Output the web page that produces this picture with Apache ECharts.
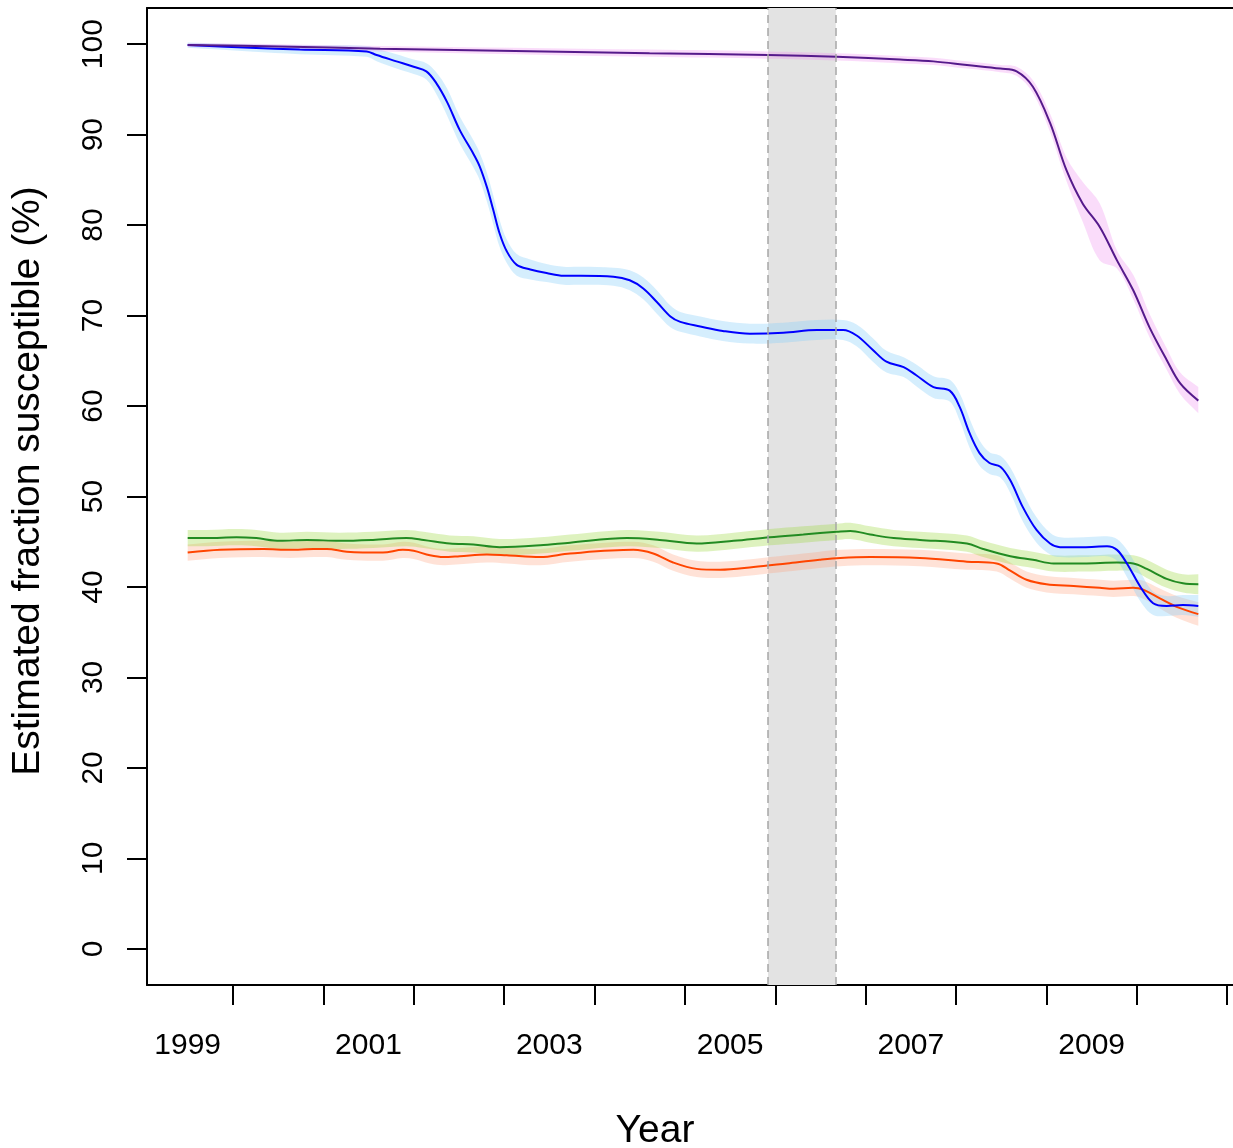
<!DOCTYPE html>
<html>
<head>
<meta charset="utf-8">
<script src="https://cdn.jsdelivr.net/npm/echarts@6/dist/echarts.min.js"></script>
<style>
html,body{margin:0;padding:0;background:#ffffff;}
#chart{width:1233px;height:1148px;}
</style>
</head>
<body>
<div id="chart"></div>
<script>
// ---------- axis ticks / labels ----------
const xTickValues = [1999.5, 2000.5, 2001.5, 2002.5, 2003.5, 2004.5, 2005.5, 2006.5, 2007.5, 2008.5, 2009.5, 2010.5];
const xLabelValues = [1999, 2001, 2003, 2005, 2007, 2009];
const yTickValues = [0, 10, 20, 30, 40, 50, 60, 70, 80, 90, 100];
const shadeStart = 2005.42;
const shadeEnd = 2006.17;

// ---------- orange-red series ----------
const orangeX   = [1999.00,1999.36,1999.84,2000.13,2000.39,2000.54,2000.76,2001.16,2001.38,2001.50,2001.68,2001.83,2002.01,2002.31,2002.53,2002.90,2003.23,2003.93,2004.15,2004.37,2004.63,2004.89,2005.26,2005.63,2005.99,2006.22,2006.55,2007.10,2007.62,2007.95,2008.10,2008.28,2008.50,2008.80,2009.09,2009.24,2009.46,2009.57,2009.76,2009.94,2010.18];
const orangeMid = [43.8,44.1,44.2,44.1,44.2,44.2,43.9,43.8,44.1,44.0,43.5,43.3,43.4,43.6,43.5,43.3,43.7,44.1,43.7,42.7,42.0,41.9,42.2,42.6,43.0,43.2,43.3,43.2,42.8,42.6,41.8,40.8,40.3,40.1,39.9,39.8,39.9,39.7,38.7,37.8,37.0];
const orangeLo  = [42.9,43.2,43.3,43.2,43.3,43.3,43.0,42.9,43.2,43.1,42.6,42.4,42.5,42.7,42.6,42.4,42.8,43.2,42.8,41.8,41.1,41.0,41.3,41.7,42.1,42.3,42.4,42.3,41.9,41.7,40.9,39.9,39.4,39.2,39.0,38.9,39.0,38.7,37.6,36.6,35.7];
const orangeHi  = [44.7,45.0,45.1,45.0,45.1,45.1,44.8,44.7,45.0,44.9,44.4,44.2,44.3,44.5,44.4,44.2,44.6,45.0,44.6,43.6,42.9,42.8,43.1,43.5,43.9,44.1,44.2,44.1,43.7,43.5,42.7,41.7,41.2,41.0,40.8,40.7,40.8,40.7,39.8,39.0,38.3];

// ---------- green series ----------
const greenX   = [1999.00,1999.21,1999.54,1999.76,2000.02,2000.32,2000.68,2001.05,2001.42,2001.61,2001.90,2002.16,2002.45,2002.90,2003.23,2003.86,2004.22,2004.63,2005.04,2005.44,2005.81,2006.18,2006.33,2006.55,2006.81,2007.10,2007.62,2007.80,2008.10,2008.35,2008.58,2008.91,2009.28,2009.46,2009.61,2009.83,2010.01,2010.18];
const greenMid = [45.4,45.4,45.5,45.4,45.1,45.2,45.1,45.2,45.4,45.2,44.8,44.7,44.4,44.6,44.9,45.4,45.2,44.8,45.1,45.5,45.8,46.1,46.2,45.8,45.4,45.2,44.8,44.2,43.4,43.0,42.6,42.6,42.7,42.6,42.0,40.9,40.4,40.3];
const greenLo  = [44.5,44.5,44.6,44.5,44.2,44.3,44.2,44.3,44.5,44.3,43.9,43.8,43.5,43.7,44.0,44.5,44.3,43.9,44.2,44.6,44.9,45.2,45.3,44.9,44.5,44.3,43.9,43.3,42.5,42.1,41.7,41.7,41.8,41.7,41.0,39.9,39.4,39.2];
const greenHi  = [46.3,46.3,46.4,46.3,46.0,46.1,46.0,46.1,46.3,46.1,45.7,45.6,45.3,45.5,45.8,46.3,46.1,45.7,46.0,46.4,46.7,47.0,47.1,46.7,46.3,46.1,45.7,45.1,44.3,43.9,43.5,43.5,43.6,43.5,43.0,41.9,41.4,41.4];

// ---------- blue series ----------
const blueX   = [1999.00,1999.69,2000.24,2000.98,2001.09,2001.31,2001.50,2001.64,2001.75,2001.87,2002.01,2002.16,2002.23,2002.31,2002.38,2002.45,2002.53,2002.64,2002.79,2002.97,2003.16,2003.35,2003.71,2003.89,2004.04,2004.19,2004.34,2004.45,2004.67,2004.92,2005.22,2005.59,2005.96,2006.25,2006.40,2006.58,2006.73,2006.92,2007.06,2007.25,2007.43,2007.54,2007.65,2007.76,2007.87,2007.99,2008.10,2008.24,2008.39,2008.54,2008.65,2008.91,2009.17,2009.28,2009.39,2009.54,2009.68,2009.83,2010.01,2010.18];
const blueMid = [99.9,99.6,99.4,99.2,98.8,98.1,97.5,97.0,95.7,93.6,90.5,87.9,86.5,84.2,81.7,79.1,77.1,75.6,75.1,74.7,74.4,74.4,74.3,73.9,73.0,71.5,69.9,69.3,68.8,68.3,68.0,68.1,68.4,68.4,67.8,66.2,64.9,64.3,63.4,62.1,61.7,59.9,57.0,54.8,53.7,53.3,51.8,48.8,46.3,44.8,44.4,44.4,44.5,44.1,42.6,40.0,38.2,37.9,38.0,37.9];
const blueLo  = [99.6,99.2,98.9,98.6,98.1,97.3,96.7,96.1,94.5,92.1,89.0,86.4,85.0,82.6,80.1,77.6,75.8,74.4,74.0,73.7,73.4,73.4,73.3,72.8,71.8,70.2,68.7,68.2,67.7,67.2,66.9,67.0,67.3,67.3,66.6,64.9,63.7,63.2,62.2,60.9,60.5,58.4,55.4,53.4,52.5,52.1,50.4,47.2,44.9,43.6,43.3,43.3,43.4,42.9,41.1,38.4,36.9,36.8,36.9,36.7];
const blueHi  = [100.2,100.0,99.9,99.8,99.5,98.9,98.3,97.9,96.9,95.1,92.0,89.4,88.0,85.8,83.3,80.6,78.4,76.8,76.2,75.7,75.4,75.4,75.3,75.0,74.2,72.8,71.1,70.4,69.9,69.4,69.1,69.2,69.5,69.5,69.0,67.5,66.1,65.4,64.6,63.3,62.9,61.4,58.6,56.2,54.9,54.5,53.2,50.4,47.7,46.0,45.5,45.5,45.6,45.3,44.1,41.6,39.5,39.0,39.1,39.1];

// ---------- purple series ----------
const purpleX   = [1999.00,2000.00,2001.13,2004.11,2005.42,2006.18,2006.88,2007.25,2007.62,2007.99,2008.17,2008.35,2008.54,2008.72,2008.90,2009.09,2009.28,2009.46,2009.64,2009.83,2009.98,2010.18];
const purpleMid = [99.9,99.75,99.5,99.0,98.8,98.6,98.3,98.1,97.7,97.3,97.0,95.3,91.3,86.1,82.4,79.8,76.1,72.8,68.7,65.1,62.5,60.6];
const purpleLo  = [99.7,99.5,99.2,98.6,98.4,98.2,97.9,97.7,97.3,96.9,96.5,94.6,90.3,84.9,80.4,76.1,75.2,71.8,67.6,64.0,61.3,59.2];
const purpleHi  = [100.1,100.0,99.8,99.4,99.2,99.0,98.7,98.5,98.1,97.7,97.5,96.0,92.3,87.5,84.8,82.4,77.2,74.5,70.2,66.4,63.7,62.1];

const FONT = 'Liberation Sans, Arial, Helvetica, sans-serif';
const SMOOTH = 0.35;
const X_MIN = 1998.55, X_MAX = 2010.63;

// confidence band drawn as one polygon through the cartesian scales
function bandSeries(xs, lo, hi, color) {
  return {
    type: 'custom', coordinateSystem: 'cartesian2d', z: 3, silent: true,
    data: xs.map((x, i) => [x, lo[i], hi[i]]),
    encode: { x: 0, y: [1, 2] },
    renderItem: function (params, api) {
      if (params.dataIndex !== 0) return null;
      const up = xs.map((x, i) => api.coord([x, hi[i]]));
      const dn = xs.map((x, i) => api.coord([x, lo[i]])).reverse();
      const pts = [up[0]].concat(up, [up[up.length - 1]], [dn[0]], dn, [dn[dn.length - 1]]);
      return { type: 'polygon', shape: { points: pts, smooth: SMOOTH }, style: { fill: color } };
    }
  };
}
function lineSeries(xs, mid, color, extra) {
  const s = {
    type: 'line', z: 3, smooth: SMOOTH, symbol: 'none', silent: true,
    lineStyle: { color: color, width: 2 },
    data: xs.map((x, i) => [x, mid[i]])
  };
  if (extra) Object.assign(s, extra);
  return s;
}

const shadeMarkers = {
  markArea: {
    silent: true, z: 1,
    itemStyle: { color: '#e3e3e3' },
    data: [[{ xAxis: shadeStart }, { xAxis: shadeEnd }]]
  },
  markLine: {
    silent: true, symbol: 'none', label: { show: false },
    lineStyle: { color: '#a6a6a6', width: 1.5, type: [8, 5] },
    data: [{ xAxis: shadeStart }, { xAxis: shadeEnd }]
  }
};

const series = [
  bandSeries(orangeX, orangeLo, orangeHi, 'rgba(255,160,122,0.30)'),
  lineSeries(orangeX, orangeMid, '#ff4500', shadeMarkers),
  bandSeries(greenX, greenLo, greenHi, 'rgba(154,215,60,0.33)'),
  lineSeries(greenX, greenMid, '#228b22'),
  bandSeries(blueX, blueLo, blueHi, 'rgba(135,206,250,0.35)'),
  lineSeries(blueX, blueMid, '#0000ff'),
  bandSeries(purpleX, purpleLo, purpleHi, 'rgba(240,140,240,0.30)'),
  lineSeries(purpleX, purpleMid, '#551a8b')
];

const chart = echarts.init(document.getElementById('chart'), null, { renderer: 'canvas' });
chart.setOption({
  animation: false,
  backgroundColor: '#ffffff',
  grid: {
    left: 147, top: 8, width: 1092, height: 977,
    outerBoundsMode: 'none', containLabel: false, show: false
  },
  xAxis: [{
    type: 'value', min: X_MIN, max: X_MAX, position: 'bottom',
    name: 'Year', nameLocation: 'middle', nameGap: 127,
    nameTextStyle: { fontSize: 39, fontFamily: FONT, color: '#000', padding: [0, 76, 0, 0] },
    axisLine: { show: true, onZero: false, lineStyle: { color: '#000', width: 2 } },
    axisTick: { show: true, inside: false, length: 20, customValues: xTickValues, lineStyle: { color: '#000', width: 2 } },
    axisLabel: {
      show: true, customValues: xLabelValues, margin: 46, fontSize: 30, fontFamily: FONT, color: '#000',
      formatter: v => String(Math.round(v))
    },
    splitLine: { show: false }
  }, {
    // top edge of the plot box
    type: 'value', min: X_MIN, max: X_MAX, position: 'top',
    axisLine: { show: true, onZero: false, lineStyle: { color: '#000', width: 2 } },
    axisTick: { show: false }, axisLabel: { show: false }, splitLine: { show: false }
  }],
  yAxis: {
    type: 'value', min: -4, max: 104,
    name: 'Estimated fraction susceptible (%)', nameLocation: 'middle', nameGap: 99,
    nameTextStyle: { fontSize: 39, fontFamily: FONT, color: '#000', padding: [0, 0, 0, 31] },
    axisLine: { show: true, onZero: false, lineStyle: { color: '#000', width: 2 } },
    axisTick: { show: true, inside: false, length: 20, customValues: yTickValues, lineStyle: { color: '#000', width: 2 } },
    axisLabel: {
      show: true, customValues: yTickValues, rotate: 90, margin: 38, fontSize: 30, fontFamily: FONT, color: '#000',
      formatter: v => String(Math.round(v))
    },
    splitLine: { show: false }
  },
  series: series
});
</script>
</body>
</html>
